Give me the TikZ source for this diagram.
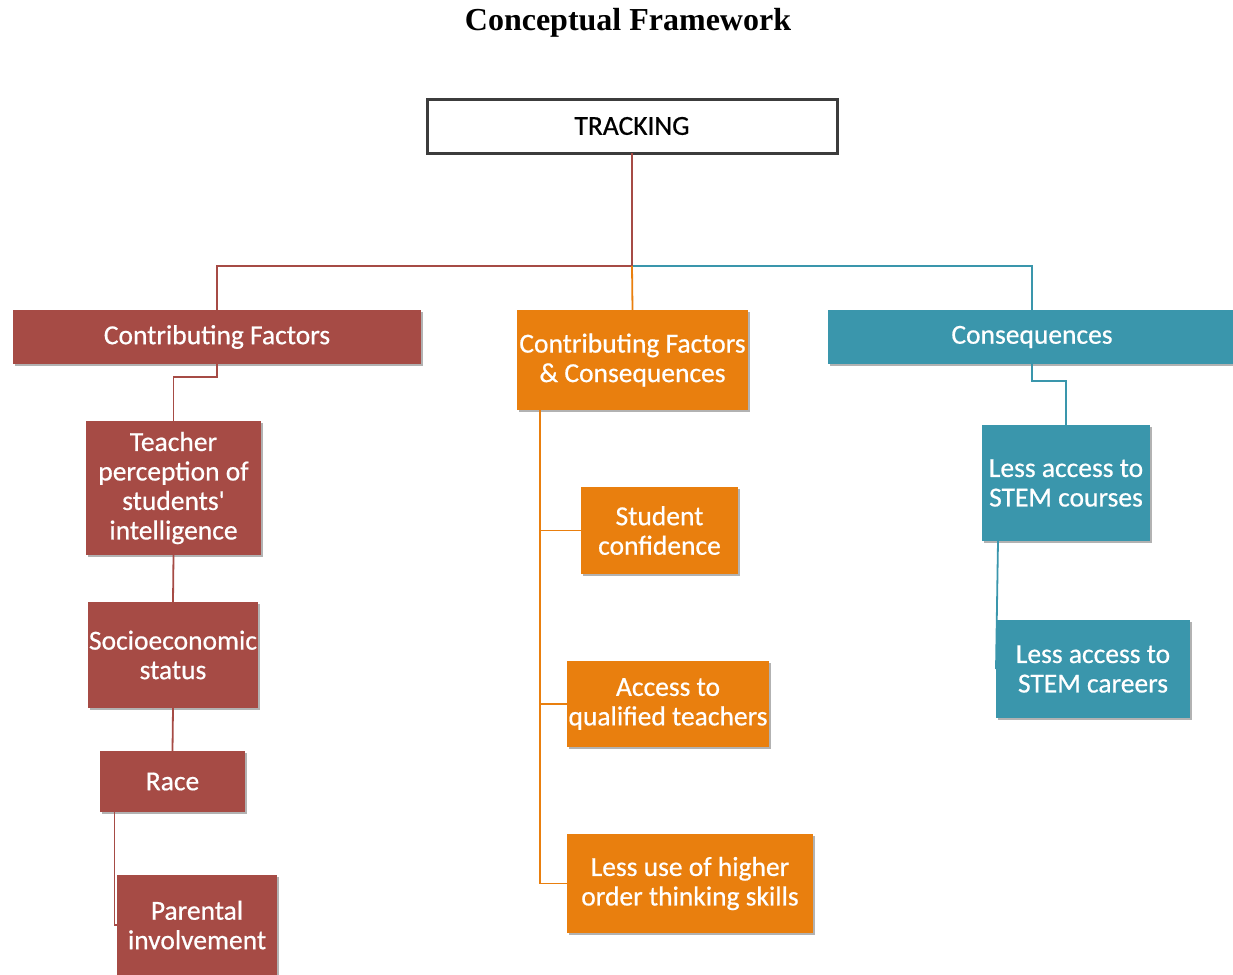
\documentclass[tikz,border=0pt]{standalone}
\usepackage{fontspec}
\setmainfont{Carlito}
\newfontfamily\boxfont{Carlito}[FakeBold=0.6]
\newfontfamily\titlefont{Liberation Serif}
\usetikzlibrary{shadows,calc}
\definecolor{cfred}{RGB}{166,75,69}
\definecolor{cforange}{RGB}{233,127,14}
\definecolor{cfteal}{RGB}{58,150,172}
\definecolor{cfgray}{RGB}{60,60,60}
\tikzset{
  boxbase/.style={inner sep=0pt, outer sep=0pt, align=center, text=white,
    font=\boxfont\fontsize{27.5}{29.5}\selectfont,
    drop shadow={shadow xshift=1.5pt, shadow yshift=-2pt, opacity=0.3, fill=black}},
  redbox/.style={boxbase, fill=cfred},
  orangebox/.style={boxbase, fill=cforange},
  tealbox/.style={boxbase, fill=cfteal},
  trackbox/.style={boxbase, fill=white, text=black, draw=cfgray, line width=3pt},
  redline/.style={draw=cfred, line width=1.8pt},
  orangeline/.style={draw=cforange, line width=1.8pt},
  tealline/.style={draw=cfteal, line width=1.8pt},
}
\begin{document}
\begin{tikzpicture}[x=1pt,y=-1pt]
\useasboundingbox (0,0) rectangle (1233,974);
\node[font=\titlefont\bfseries\fontsize{32}{36}\selectfont] (title) at (628,23) {Conceptual Framework};

% top box
\node[trackbox, minimum width=410pt, minimum height=54pt] (track) at (632,126) {TRACKING};

% level 1
\node[redbox, minimum width=408pt, minimum height=54pt] (cf) at (217,337) {Contributing Factors};
\node[orangebox, minimum width=231pt, minimum height=100pt] (cfc) at (632.5,360) {Contributing Factors\\ \& Consequences};
\node[tealbox, minimum width=408pt, minimum height=54pt] (cons) at (1032,337) {Consequences};

% left column
\node[redbox, minimum width=175pt, minimum height=134pt] (teach) at (173.5,488) {Teacher\\perception of\\students'\\intelligence};
\node[redbox, minimum width=170pt, minimum height=106pt] (socio) at (173,655) {Socioeconomic\\status};
\node[redbox, minimum width=145pt, minimum height=61pt] (race) at (172.5,781.5) {Race};
\node[redbox, minimum width=160pt, minimum height=100pt] (par) at (197,925) {Parental\\involvement};

% middle column
\node[orangebox, minimum width=157pt, minimum height=87pt] (stud) at (659.5,530.5) {Student\\confidence};
\node[orangebox, minimum width=202pt, minimum height=86pt] (acc) at (668,704) {Access to\\qualified teachers};
\node[orangebox, minimum width=246pt, minimum height=99pt] (less) at (690,883.5) {Less use of higher\\order thinking skills};

% right column
\node[tealbox, minimum width=168pt, minimum height=116pt] (crs) at (1066,483) {Less access to\\STEM courses};
\node[tealbox, minimum width=194pt, minimum height=98pt] (car) at (1093,669) {Less access to\\STEM careers};

% connectors
\coordinate (hub) at (track.south |- 0,266);
\draw[tealline] (hub) -| (cons.north);
\draw[redline] (track.south) -- (hub) -| (cf.north);
\draw[orangeline] (hub) -- (cfc.north);

\draw[redline] (cf.south) -- ++(0,13) -| (teach.north);
\draw[redline] (teach.south) -- (socio.north);
\draw[redline] (socio.south) -- (race.north);
\draw[redline] ($(race.south west)+(14.5,0)$) |- (par.west);

\coordinate (spine) at ($(cfc.south west)+(23,0)$);
\draw[orangeline] (spine) |- (less.west);
\draw[orangeline] (spine) |- (stud.west);
\draw[orangeline] (spine) |- (acc.west);

\draw[tealline] (cons.south) -- ++(0,17) -| (crs.north);
\draw[tealline] ($(crs.south west)+(16,0)$) -- (car.west);
\end{tikzpicture}
\end{document}
